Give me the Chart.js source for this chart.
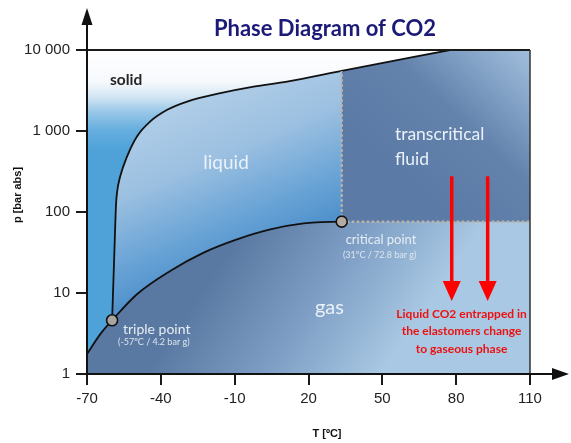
<!DOCTYPE html>
<html><head><meta charset="utf-8">
<script src="https://cdn.jsdelivr.net/npm/chart.js@4.4.1/dist/chart.umd.min.js"></script>
<style>html,body{margin:0;padding:0;background:#fff;}canvas{display:block;}</style>
</head><body>
<canvas id="c" width="571" height="443"></canvas>
<script>
// ---- data (T in °C, p in bar abs) ----
const xTicks = [-70, -40, -10, 20, 50, 80, 110];
const yTicks = [1, 10, 100, 1000, 10000];
const yTickLabels = ['1', '10', '100', '1 000', '10 000'];

const triplePoint = {x: -59.8, y: 4.6};
const criticalPoint = {x: 33.5, y: 76};

// sublimation + vaporization curve
const vapT = [-70, -64.6, -59.8, -49.7, -36.2, -22.6, -9.05, 4.5, 18.05, 33.5];
const vapP = [1.76, 3.11, 4.6, 9.65, 18.7, 31.5, 45.9, 60.9, 72.2, 76];

// melting curve
const meltT = [-59.8, -59.0, -58.2, -57.8, -56.5, -53.7, -49.7, -44.3, -37.4, -29.3, -15.8, -2.3, 11.3, 33.5, 77.5];
const meltP = [4.6, 24.6, 124, 174, 276, 486, 857, 1312, 1827, 2311, 2931, 3533, 4074, 5513, 10000];

// annotation arrows
const arrowT = [78.2, 92.8];
const arrowFromP = 276;
const arrowToP = 7.98;

const axisMin = -70, axisMax = 110, pMin = 1, pMax = 10000;

// ---- derived tables ----
const vapData = vapT.map((t, i) => ({x: t, y: vapP[i]})).concat([{x: axisMax, y: criticalPoint.y}]);
const meltData = meltT.map((t, i) => ({x: t, y: meltP[i]}));
const iCrit = meltT.indexOf(criticalPoint.x);
const transData = meltData.slice(iCrit).concat([{x: axisMax, y: pMax}]);
const critVLine = [{x: criticalPoint.x, y: criticalPoint.y}, {x: criticalPoint.x, y: meltP[iCrit]}];
const critHLine = [{x: criticalPoint.x, y: criticalPoint.y}, {x: axisMax, y: criticalPoint.y}];
const bgData = [{x: axisMin, y: pMax}, {x: axisMax, y: pMax}];

const cache = {};
function grad(chart, key, build) {
  const a = chart.chartArea;
  if (!a) return null;
  if (!cache[key]) cache[key] = build(chart.ctx, a);
  return cache[key];
}
function stops(g, list) { list.forEach(([o, c]) => g.addColorStop(o, c)); return g; }

const solidGrad = c => grad(c.chart, 'solid', (ctx, a) =>
  stops(ctx.createLinearGradient(0, a.top, 0, a.top + 100),
    [[0, '#ffffff'], [0.32, '#f6f9fc'], [0.47, '#d2e5f3'], [0.62, '#98c7e8'], [0.8, '#66aedf'], [1, '#4ea2d8']]));
const liquidGrad = c => grad(c.chart, 'liquid', (ctx, a) =>
  stops(ctx.createLinearGradient(a.left + 80, a.top + 50, a.left + 150, a.top + 215),
    [[0, '#b2cfe8'], [0.4, '#9cc0e1'], [0.75, '#6aa4d6'], [1, '#4d8fca']]));
const transGrad = c => grad(c.chart, 'trans', (ctx, a) =>
  stops(ctx.createLinearGradient(a.left + 330, a.top + 140, a.left + 470, a.top - 10),
    [[0, '#5b7ba6'], [0.4, '#6383ad'], [0.7, '#8aa9cc'], [1, '#b2cde5']]));
const gasGrad = c => grad(c.chart, 'gas', (ctx, a) =>
  stops(ctx.createLinearGradient(a.left + 143, a.top + 200, a.left + 303, a.top + 310),
    [[0, '#5a79a2'], [0.5, '#7d9dc4'], [1, '#a8c8e3']]));

const DOT = '#bdb2a6';
const NONE = 'rgba(0,0,0,0)';

const deco = {
  id: 'deco',
  afterDatasetsDraw(chart) {
    const {ctx, chartArea: a, scales: {x, y}} = chart;
    const px = v => x.getPixelForValue(v), py = v => y.getPixelForValue(v);
    ctx.save();
    // frame
    ctx.strokeStyle = '#1a1a1a'; ctx.lineWidth = 2;
    ctx.beginPath(); ctx.moveTo(a.left, a.top); ctx.lineTo(a.right, a.top); ctx.stroke();
    ctx.strokeStyle = '#333'; ctx.lineWidth = 1.5;
    ctx.beginPath(); ctx.moveTo(a.right, a.top); ctx.lineTo(a.right, a.bottom); ctx.stroke();
    // axes with arrows
    ctx.strokeStyle = '#111'; ctx.fillStyle = '#111'; ctx.lineWidth = 2;
    ctx.beginPath(); ctx.moveTo(a.left, a.bottom + 1); ctx.lineTo(a.left, 20); ctx.stroke();
    ctx.beginPath(); ctx.moveTo(a.left, 8); ctx.lineTo(a.left - 5.5, 25); ctx.lineTo(a.left + 5.5, 25); ctx.closePath(); ctx.fill();
    ctx.beginPath(); ctx.moveTo(a.left - 1, a.bottom); ctx.lineTo(556, a.bottom); ctx.stroke();
    ctx.beginPath(); ctx.moveTo(569, a.bottom); ctx.lineTo(552, a.bottom - 6); ctx.lineTo(552, a.bottom + 6); ctx.closePath(); ctx.fill();

    // region labels
    ctx.textBaseline = 'middle';
    ctx.fillStyle = '#262626'; ctx.font = 'bold 15.5px Lato'; ctx.textAlign = 'left';
    ctx.fillText('solid', px(-60.65), py(4276));
    ctx.fillStyle = '#eaf1f8'; ctx.font = '19px Lato'; ctx.textAlign = 'center';
    ctx.fillText('liquid', px(-13.5), py(406));
    ctx.textAlign = 'left'; ctx.font = '17.5px Lato';
    ctx.fillText('transcritical', px(55.1), py(899));
    ctx.fillText('fluid', px(55.1), py(443));
    ctx.textAlign = 'center'; ctx.font = '20px Lato';
    ctx.fillText('gas', px(28.5), py(6.68));
    ctx.textAlign = 'left'; ctx.fillStyle = '#e6edf4';
    ctx.font = '14px Lato';
    ctx.fillText('triple point', px(-55.4), py(3.58));
    ctx.font = '13px Lato';
    ctx.fillText('critical point', px(35.1), py(45));
    ctx.font = '9px Lato'; ctx.fillStyle = '#dde6ef';
    ctx.fillText('(-57ºC / 4.2 bar g)', px(-57.4), py(2.48));
    ctx.fillText('(31ºC / 72.8 bar g)', px(34), py(29.2));

    // red arrows
    ctx.strokeStyle = '#ff0000'; ctx.fillStyle = '#ff0000'; ctx.lineWidth = 3.5;
    arrowT.forEach(t => {
      const xx = px(t), y0 = py(arrowFromP), y1 = py(arrowToP);
      ctx.beginPath(); ctx.moveTo(xx, y0); ctx.lineTo(xx, y1 - 18); ctx.stroke();
      ctx.beginPath(); ctx.moveTo(xx, y1); ctx.lineTo(xx - 9, y1 - 20); ctx.lineTo(xx + 9, y1 - 20); ctx.closePath(); ctx.fill();
    });
    ctx.fillStyle = '#ee1111'; ctx.font = 'bold 12px Lato'; ctx.textAlign = 'center';
    ctx.fillText('Liquid CO2 entrapped in', px(82.2), py(5.48));
    ctx.fillText('the elastomers change', px(82.2), py(3.35));
    ctx.fillText('to gaseous phase', px(82.2), py(2.03));

    // titles
    ctx.fillStyle = '#1c1a78'; ctx.font = 'bold 22px Lato'; ctx.textBaseline = 'alphabetic';
    ctx.fillText('Phase Diagram of CO2', 325, 36);
    ctx.fillStyle = '#111'; ctx.font = 'bold 11px "Liberation Sans"';
    ctx.fillText('T [ºC]', 327, 437);
    ctx.translate(21, 195); ctx.rotate(-Math.PI / 2);
    ctx.fillText('p [bar abs]', 0, 0);
    ctx.restore();
  }
};

const tickFont = {family: '"Liberation Sans"', size: 15};

new Chart(document.getElementById('c'), {
  type: 'line',
  data: {
    datasets: [
      { label: 'points', data: [triplePoint, criticalPoint], showLine: false, fill: false,
        pointRadius: 5.5, pointBackgroundColor: ['#a9a59e', '#b3aba1'], pointBorderColor: '#111', pointBorderWidth: 1.6 },
      { label: 'critical isotherm', data: critVLine, fill: false, borderColor: DOT, borderWidth: 2.5,
        borderDash: [2.5, 2.5], pointRadius: 0 },
      { label: 'critical isobar', data: critHLine, fill: false, borderColor: DOT, borderWidth: 2.5,
        borderDash: [2.5, 2.5], pointRadius: 0 },
      { label: 'vaporization curve', data: vapData, fill: false, borderColor: '#111', borderWidth: 1.8,
        cubicInterpolationMode: 'monotone', pointRadius: 0,
        segment: { borderColor: s => s.p0DataIndex >= vapT.length - 1 ? NONE : '#111' } },
      { label: 'gas', data: vapData, fill: 'start', backgroundColor: gasGrad, borderColor: NONE, borderWidth: 0,
        cubicInterpolationMode: 'monotone', pointRadius: 0 },
      { label: 'transcritical', data: transData, fill: {value: criticalPoint.y}, backgroundColor: transGrad,
        borderWidth: 0, borderColor: NONE, pointRadius: 0, tension: 0 },
      { label: 'liquid', data: meltData, fill: 'start', backgroundColor: liquidGrad, borderColor: '#111',
        borderWidth: 1.8, cubicInterpolationMode: 'monotone', pointRadius: 0 },
      { label: 'solid', data: bgData, fill: 'start', backgroundColor: solidGrad, borderWidth: 0,
        borderColor: NONE, pointRadius: 0 }
    ]
  },
  options: {
    responsive: false, animation: false, devicePixelRatio: 1,
    layout: {padding: {top: 50, right: 41, left: 0, bottom: 0}},
    plugins: {legend: {display: false}, tooltip: {enabled: false}, filler: {drawTime: 'beforeDatasetsDraw'}},
    scales: {
      x: { type: 'linear', min: axisMin, max: axisMax,
        afterBuildTicks: s => { s.ticks = xTicks.map(v => ({value: v})); },
        afterFit: s => { s.height = 69; },
        ticks: {font: tickFont, color: '#222', padding: 5, maxRotation: 0, autoSkip: false},
        grid: {drawOnChartArea: false, drawTicks: true, tickLength: 11, color: '#1a1a1a', lineWidth: 2},
        border: {display: false} },
      y: { type: 'logarithmic', min: pMin, max: pMax,
        afterBuildTicks: s => { s.ticks = yTicks.map(v => ({value: v})); },
        afterFit: s => { s.width = 87; },
        ticks: {font: tickFont, color: '#222', padding: 6, callback: v => yTickLabels[yTicks.indexOf(v)]},
        grid: {drawOnChartArea: false, drawTicks: true, tickLength: 11, color: '#1a1a1a', lineWidth: 2},
        border: {display: false} }
    }
  },
  plugins: [deco]
});
</script>
</body></html>
